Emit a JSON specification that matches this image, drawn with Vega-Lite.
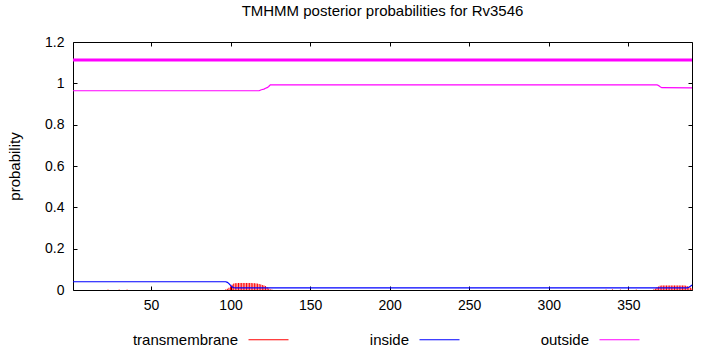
{
  "$schema": "https://vega.github.io/schema/vega-lite/v6.json",
  "width": 619,
  "height": 248,
  "autosize": {"type": "none"},
  "padding": {"left": 73, "top": 42, "right": 18, "bottom": 60},
  "background": "white",
  "config": {
    "view": {"stroke": null},
    "font": "Liberation Sans",
    "axis": {"grid": false, "domainColor": "black", "tickColor": "black", "labelColor": "black", "labelFont": "Liberation Sans", "labelFontSize": 14, "tickSize": -4, "domainWidth": 1, "tickWidth": 1}
  },
  "title": {"text": "TMHMM posterior probabilities for Rv3546", "font": "Liberation Sans", "fontSize": 15, "fontWeight": "normal", "color": "black", "anchor": "middle", "offset": 16},
  "datasets": {
    "tm": [
      {"residue": 23, "prob": 0.002}, {"residue": 30, "prob": 0.002}, {"residue": 35, "prob": 0.002},
      {"residue": 97, "prob": 0.003}, {"residue": 98, "prob": 0.006}, {"residue": 99, "prob": 0.011}, {"residue": 100, "prob": 0.018},
      {"residue": 101, "prob": 0.026}, {"residue": 102, "prob": 0.031}, {"residue": 103, "prob": 0.033}, {"residue": 104, "prob": 0.033},
      {"residue": 105, "prob": 0.034}, {"residue": 106, "prob": 0.034}, {"residue": 107, "prob": 0.034}, {"residue": 108, "prob": 0.034},
      {"residue": 109, "prob": 0.034}, {"residue": 110, "prob": 0.034}, {"residue": 111, "prob": 0.034}, {"residue": 112, "prob": 0.034},
      {"residue": 113, "prob": 0.034}, {"residue": 114, "prob": 0.033}, {"residue": 115, "prob": 0.033}, {"residue": 116, "prob": 0.032},
      {"residue": 117, "prob": 0.031}, {"residue": 118, "prob": 0.029}, {"residue": 119, "prob": 0.027}, {"residue": 120, "prob": 0.024},
      {"residue": 121, "prob": 0.022}, {"residue": 122, "prob": 0.019}, {"residue": 123, "prob": 0.013}, {"residue": 124, "prob": 0.007},
      {"residue": 125, "prob": 0.003}, {"residue": 126, "prob": 0.002},
      {"residue": 336, "prob": 0.002}, {"residue": 340, "prob": 0.003}, {"residue": 345, "prob": 0.002}, {"residue": 350, "prob": 0.003},
      {"residue": 355, "prob": 0.002}, {"residue": 366, "prob": 0.003}, {"residue": 367, "prob": 0.007}, {"residue": 368, "prob": 0.012},
      {"residue": 369, "prob": 0.017}, {"residue": 370, "prob": 0.021}, {"residue": 371, "prob": 0.022}, {"residue": 372, "prob": 0.022},
      {"residue": 373, "prob": 0.022}, {"residue": 374, "prob": 0.022}, {"residue": 375, "prob": 0.022}, {"residue": 376, "prob": 0.022},
      {"residue": 377, "prob": 0.022}, {"residue": 378, "prob": 0.022}, {"residue": 379, "prob": 0.022}, {"residue": 380, "prob": 0.022},
      {"residue": 381, "prob": 0.022}, {"residue": 382, "prob": 0.022}, {"residue": 383, "prob": 0.022}, {"residue": 384, "prob": 0.022},
      {"residue": 385, "prob": 0.022}, {"residue": 386, "prob": 0.021}, {"residue": 387, "prob": 0.019}, {"residue": 388, "prob": 0.016},
      {"residue": 389, "prob": 0.012}, {"residue": 390, "prob": 0.008}
    ],
    "lines": [
      {"residue": 1, "prob": 0.040, "series": "inside"}, {"residue": 97, "prob": 0.040, "series": "inside"},
      {"residue": 98, "prob": 0.037, "series": "inside"}, {"residue": 99, "prob": 0.031, "series": "inside"},
      {"residue": 100, "prob": 0.022, "series": "inside"}, {"residue": 101, "prob": 0.015, "series": "inside"},
      {"residue": 102, "prob": 0.011, "series": "inside"}, {"residue": 103, "prob": 0.010, "series": "inside"},
      {"residue": 387, "prob": 0.010, "series": "inside"}, {"residue": 388, "prob": 0.013, "series": "inside"},
      {"residue": 389, "prob": 0.018, "series": "inside"}, {"residue": 390, "prob": 0.024, "series": "inside"},
      {"residue": 1, "prob": 0.964, "series": "outside"}, {"residue": 118, "prob": 0.964, "series": "outside"},
      {"residue": 119, "prob": 0.968, "series": "outside"}, {"residue": 120, "prob": 0.970, "series": "outside"},
      {"residue": 121, "prob": 0.972, "series": "outside"}, {"residue": 122, "prob": 0.976, "series": "outside"},
      {"residue": 123, "prob": 0.979, "series": "outside"}, {"residue": 124, "prob": 0.985, "series": "outside"},
      {"residue": 125, "prob": 0.993, "series": "outside"}, {"residue": 368, "prob": 0.993, "series": "outside"},
      {"residue": 369, "prob": 0.989, "series": "outside"}, {"residue": 370, "prob": 0.983, "series": "outside"},
      {"residue": 371, "prob": 0.979, "series": "outside"}, {"residue": 390, "prob": 0.978, "series": "outside"}
    ],
    "topology": [
      {"residue": 1, "prob": 1.113, "series": "outside"},
      {"residue": 390, "prob": 1.113, "series": "outside"}
    ]
  },
  "layer": [
    {
      "data": {"name": "topology"},
      "mark": {"type": "line", "strokeWidth": 3},
      "encoding": {
        "x": {"field": "residue", "type": "quantitative", "scale": {"domain": [1, 390], "nice": false, "zero": false},
              "axis": {"orient": "bottom", "title": null, "values": [50, 100, 150, 200, 250, 300, 350], "labelPadding": 12, "labelFlush": false}},
        "y": {"field": "prob", "type": "quantitative", "scale": {"domain": [0, 1.2], "nice": false},
              "axis": {"orient": "left", "title": "probability", "values": [0, 0.2, 0.4, 0.6, 0.8, 1, 1.2], "format": "~g", "labelPadding": 13,
                       "titleFont": "Liberation Sans", "titleFontSize": 15, "titleFontWeight": "normal", "titleColor": "black",
                       "titleX": -59, "titleY": 124, "titleAngle": 270, "titleAlign": "center", "titleBaseline": "middle"}},
        "color": {"field": "series", "type": "nominal",
                  "scale": {"domain": ["transmembrane", "inside", "outside"], "range": ["#ff0000", "#0000ff", "#ff00ff"]},
                  "legend": {"orient": "none", "legendX": 175, "legendY": 277, "direction": "horizontal", "title": null,
                             "symbolType": "stroke", "symbolSize": 1600, "symbolStrokeWidth": 1,
                             "labelAlign": "right", "labelOffset": -51, "labelFont": "Liberation Sans", "labelFontSize": 15,
                             "labelColor": "black", "columnPadding": 78, "labelLimit": 300}}
      }
    },
    {
      "data": {"name": "tm"},
      "mark": {"type": "rule", "strokeWidth": 1},
      "encoding": {
        "x": {"field": "residue", "type": "quantitative", "axis": {"orient": "top", "title": null, "labels": false, "values": [50, 100, 150, 200, 250, 300, 350]}},
        "y": {"field": "prob", "type": "quantitative", "axis": {"orient": "right", "title": null, "labels": false, "values": [0, 0.2, 0.4, 0.6, 0.8, 1, 1.2]}},
        "y2": {"datum": 0},
        "color": {"datum": "transmembrane"}
      }
    },
    {
      "data": {"name": "lines"},
      "mark": {"type": "line", "strokeWidth": 1.2},
      "encoding": {
        "x": {"field": "residue", "type": "quantitative", "axis": null},
        "y": {"field": "prob", "type": "quantitative", "axis": null},
        "color": {"field": "series", "type": "nominal"}
      }
    }
  ],
  "resolve": {"axis": {"x": "independent", "y": "independent"}}
}
